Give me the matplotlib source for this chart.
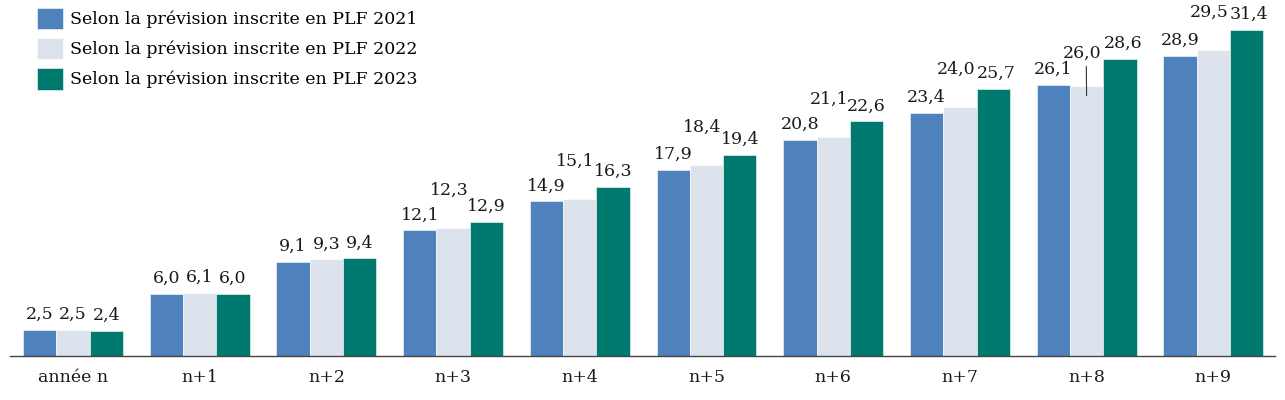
import matplotlib.pyplot as plt
import numpy as np

# data
groups = ["année n", "n+1", "n+2", "n+3", "n+4", "n+5", "n+6", "n+7", "n+8", "n+9"]
series_names = ["Selon la prévision inscrite en PLF 2021",
                "Selon la prévision inscrite en PLF 2022",
                "Selon la prévision inscrite en PLF 2023"]
plf2021 = [2.5, 6.0, 9.1, 12.1, 14.9, 17.9, 20.8, 23.4, 26.1, 28.9]
plf2022 = [2.5, 6.1, 9.3, 12.3, 15.1, 18.4, 21.1, 24.0, 26.0, 29.5]
plf2023 = [2.4, 6.0, 9.4, 12.9, 16.3, 19.4, 22.6, 25.7, 28.6, 31.4]

colors = ["#4f81bd", "#dde3ed", "#00796f"]
plt.rcParams['font.family'] = ['DejaVu Serif']
fs = 12.5

fig = plt.figure(figsize=(12.85, 4.0), dpi=100)
ax = fig.add_axes([10/1285, 44/400, 1265/1285, 356/400])

x = np.arange(len(groups))
w = 0.263
allvals = [plf2021, plf2022, plf2023]
for k, vals in enumerate(allvals):
    ax.bar(x + (k - 1)*w, vals, w, color=colors[k], label=series_names[k],
           edgecolor='white', linewidth=0.4)
    for i, v in enumerate(vals):
        lbl = f"{v:.1f}".replace('.', ',')
        dx, dy = 0, 5
        if k == 1 and i >= 3:
            dx, dy = -3, 21
        if k == 2 and i >= 7:
            dx = 2
        if k == 1 and i == 8:
            # label with leader line
            ax.annotate(lbl, xy=(x[i] + (k-1)*w, v - 0.9), xytext=(-3, 24),
                        textcoords='offset points', ha='center', va='bottom',
                        fontsize=fs, color='#1a1a1a',
                        arrowprops=dict(arrowstyle='-', color='#333333', lw=0.8,
                                        shrinkA=1, shrinkB=0, relpos=(0.6, 0)))
            continue
        ax.annotate(lbl, xy=(x[i] + (k-1)*w, v), xytext=(dx, dy),
                    textcoords='offset points', ha='center', va='bottom',
                    fontsize=fs, color='#1a1a1a')

ax.set_xlim(-0.497, 9.487)
ax.set_ylim(0, 34.3)
ax.set_xticks(x)
ax.set_xticklabels(groups, fontsize=fs, color='#1a1a1a')
ax.tick_params(axis='x', length=0, pad=9)
ax.set_yticks([])
for s in ['top', 'right', 'left']:
    ax.spines[s].set_visible(False)
ax.spines['bottom'].set_color('#444444')
ax.spines['bottom'].set_linewidth(1.0)

ax.legend(loc='upper left', bbox_to_anchor=(0.0162, 0.998), frameon=False,
          fontsize=fs, handlelength=1.45, handleheight=1.55, handletextpad=0.4,
          labelspacing=0.48, borderaxespad=0)

fig.savefig("out.png", dpi=100)
